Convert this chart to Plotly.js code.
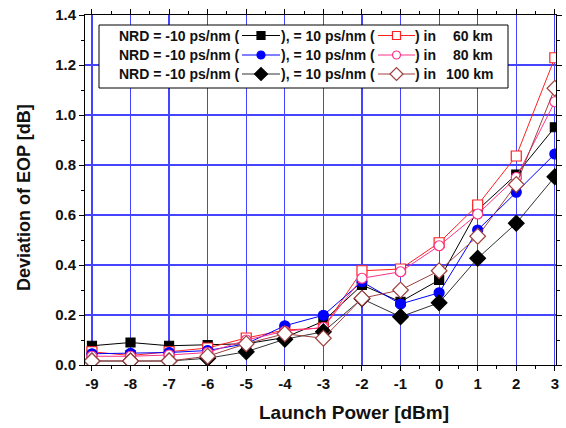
<!DOCTYPE html>
<html>
<head>
<meta charset="utf-8">
<script src="https://cdn.plot.ly/plotly-3.0.1.min.js"></script>
<style>html,body{margin:0;padding:0;background:#fff}#chart{width:566px;height:428px}</style>
</head>
<body>
<div id="chart"></div>
<script>
// ---- data ----
const launchPower = [-9, -8, -7, -6, -5, -4, -3, -2, -1, 0, 1, 2, 3];
const eop60km_nrdMinus10 = [0.077, 0.090, 0.077, 0.080, 0.085, 0.110, 0.175, 0.320, 0.253, 0.340, 0.620, 0.762, 0.951];
const eop60km_nrdPlus10  = [0.053, 0.038, 0.053, 0.068, 0.108, 0.140, 0.148, 0.377, 0.384, 0.489, 0.640, 0.836, 1.229];
const eop80km_nrdMinus10 = [0.045, 0.047, 0.050, 0.058, 0.085, 0.157, 0.199, 0.333, 0.244, 0.289, 0.540, 0.691, 0.844];
const eop80km_nrdPlus10  = [0.035, 0.035, 0.040, 0.050, 0.100, 0.135, 0.150, 0.347, 0.373, 0.477, 0.604, 0.750, 1.053];
const eop100km_nrdMinus10 = [0.016, 0.016, 0.016, 0.027, 0.053, 0.103, 0.133, 0.265, 0.193, 0.249, 0.427, 0.567, 0.753];
const eop100km_nrdPlus10  = [0.016, 0.016, 0.016, 0.035, 0.085, 0.125, 0.107, 0.267, 0.300, 0.377, 0.515, 0.722, 1.107];
const distances = ['60 km', '80 km', '100 km'];
const yTickVals = [0, 0.2, 0.4, 0.6, 0.8, 1.0, 1.2, 1.4];
const xTickVals = [-9, -8, -7, -6, -5, -4, -3, -2, -1, 0, 1, 2, 3];

// ---- styles ----
const styles = [
  {y: eop60km_nrdMinus10, line: '#000000', mcolor: '#000000', fill: '#000000', symbol: 'square', size: 9, lsize: 8},
  {y: eop60km_nrdPlus10,  line: '#ff2020', mcolor: '#ff2020', fill: '#ffffff', symbol: 'square', size: 10, lsize: 8},
  {y: eop80km_nrdMinus10, line: '#0000ff', mcolor: '#0000ff', fill: '#0000ff', symbol: 'circle', size: 10, lsize: 8},
  {y: eop80km_nrdPlus10,  line: '#ff3388', mcolor: '#ff3388', fill: '#ffffff', symbol: 'circle', size: 10, lsize: 8},
  {y: eop100km_nrdMinus10, line: '#333333', mcolor: '#000000', fill: '#000000', symbol: 'diamond', size: 12, lsize: 10},
  {y: eop100km_nrdPlus10,  line: '#a04040', mcolor: '#a04040', fill: '#ffffff', symbol: 'diamond', size: 12, lsize: 10}
];

const FONT = 'Liberation Sans, Arial, sans-serif';
const X_RANGE = [-9.18, 3.03], Y_RANGE = [0, 1.4];
const PX = {l: 85, r: 556, t: 15, b: 365};

const traces = styles.map(s => ({
  x: launchPower, y: s.y, type: 'scatter', mode: 'lines+markers',
  line: {color: s.line, width: 1},
  marker: {symbol: s.symbol, size: s.size, color: s.fill, line: {color: s.mcolor, width: 1.2}},
  showlegend: false, hoverinfo: 'skip'
}));

// legend box + samples on a pixel-coordinate overlay axis
const box = {x0: 99, x1: 508, y0: 25, y1: 88};
traces.push({x: [box.x0, box.x1, box.x1, box.x0, box.x0], y: [box.y0, box.y0, box.y1, box.y1, box.y0],
  xaxis: 'x2', yaxis: 'y2', type: 'scatter', mode: 'lines', fill: 'toself', fillcolor: '#ffffff',
  line: {color: '#000', width: 1}, showlegend: false, hoverinfo: 'skip'});
const legendRowsY = [35.5, 55, 74];
const sampleSpans = [[242, 280], [378, 415]];
styles.forEach((s, i) => {
  const row = Math.floor(i / 2), col = i % 2;
  const [a, b] = sampleSpans[col];
  const yy = legendRowsY[row];
  traces.push({x: [a, b], y: [yy, yy], xaxis: 'x2', yaxis: 'y2', type: 'scatter', mode: 'lines',
    line: {color: s.line, width: 1}, showlegend: false, hoverinfo: 'skip'});
  traces.push({x: [(a + b) / 2], y: [yy], xaxis: 'x2', yaxis: 'y2', type: 'scatter', mode: 'markers',
    marker: {symbol: s.symbol, size: s.lsize, color: s.fill, line: {color: s.mcolor, width: 1.2}},
    showlegend: false, hoverinfo: 'skip'});
});

const annotations = [];
const tf = {family: FONT, size: 14, color: '#111'};
legendRowsY.forEach((yy, r) => {
  annotations.push({xref: 'x2', yref: 'y2', x: 241, y: yy, text: '<b>NRD = -10 ps/nm (</b>', showarrow: false, xanchor: 'right', yanchor: 'middle', font: tf, borderpad: 0});
  annotations.push({xref: 'x2', yref: 'y2', x: 280, y: yy, text: '<b>), = 10 ps/nm (</b>', showarrow: false, xanchor: 'left', yanchor: 'middle', font: tf, borderpad: 0});
  annotations.push({xref: 'x2', yref: 'y2', x: 414, y: yy, text: '<b>) in</b>', showarrow: false, xanchor: 'left', yanchor: 'middle', font: tf, borderpad: 0});
  annotations.push({xref: 'x2', yref: 'y2', x: 494, y: yy, text: '<b>' + distances[r] + '</b>', showarrow: false, xanchor: 'right', yanchor: 'middle', font: tf, borderpad: 0});
});
// axis titles
annotations.push({xref: 'x2', yref: 'paper', x: 354, y: 0, yshift: -47, text: '<b>Launch Power [dBm]</b>', showarrow: false, xanchor: 'center', yanchor: 'middle', font: {family: FONT, size: 19, color: '#111'}});
annotations.push({xref: 'paper', yref: 'y2', x: 0, xshift: -61, y: 198, text: '<b>Deviation of EOP [dB]</b>', textangle: -90, showarrow: false, xanchor: 'center', yanchor: 'middle', font: {family: FONT, size: 18, color: '#111'}});

const gridColor = '#4444ff';
const layout = {
  width: 566, height: 428,
  margin: {l: 85, r: 10, t: 15, b: 63},
  paper_bgcolor: '#ffffff', plot_bgcolor: '#ffffff',
  font: {family: FONT, color: '#111'},
  xaxis: {
    range: X_RANGE, tickvals: xTickVals, ticktext: xTickVals.map(v => '<b>' + v + '</b>'),
    showgrid: true, gridcolor: gridColor, gridwidth: 1.2, zeroline: false,
    showline: true, linecolor: '#000', linewidth: 1, mirror: 'ticks',
    ticks: 'outside', ticklen: 5, tickcolor: '#000', tickfont: {family: FONT, size: 15, color: '#111'},
    minor: {dtick: 0.5, tick0: 0, ticklen: 3, ticks: 'outside', tickcolor: '#000', showgrid: false},
    fixedrange: true
  },
  yaxis: {
    range: Y_RANGE, tickvals: yTickVals, ticktext: yTickVals.map(v => '<b>' + v.toFixed(1) + '</b>'),
    showgrid: true, gridcolor: gridColor, gridwidth: 1.2, zeroline: false,
    showline: true, linecolor: '#000', linewidth: 1, mirror: 'ticks',
    ticks: 'outside', ticklen: 5, tickcolor: '#000', tickfont: {family: FONT, size: 15, color: '#111'},
    minor: {dtick: 0.1, tick0: 0, ticklen: 3, ticks: 'outside', tickcolor: '#000', showgrid: false},
    fixedrange: true
  },
  xaxis2: {overlaying: 'x', range: [PX.l, PX.r], visible: false, fixedrange: true},
  yaxis2: {overlaying: 'y', range: [PX.b, PX.t], visible: false, fixedrange: true},
  annotations: annotations,
  showlegend: false
};

Plotly.newPlot('chart', traces, layout, {displayModeBar: false, staticPlot: true});
</script>
</body>
</html>
